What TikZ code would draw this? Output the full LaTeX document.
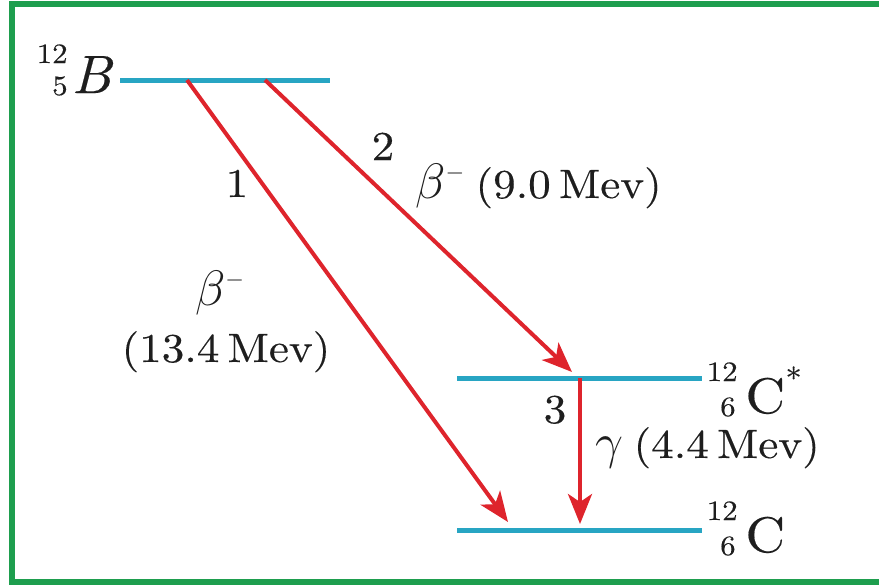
\documentclass[tikz,border=0pt]{standalone}
\usepackage{fontspec}
\setmainfont{lmroman10-regular.otf}[FakeStretch=1.1,FakeBold=0.3,ItalicFont=lmroman10-italic.otf,ItalicFeatures={FakeStretch=1.05,FakeBold=0.3}]
\usetikzlibrary{arrows.meta}
\DeclareMathSizes{23}{23}{13}{10}
\definecolor{framegreen}{RGB}{30,158,78}
\definecolor{levelblue}{RGB}{40,165,195}
\definecolor{arrowred}{RGB}{222,36,44}
\definecolor{txt}{RGB}{30,30,30}
\newcommand{\gp}{\hspace{0.2em}}
\newcommand{\gk}[1]{{\fontsize{23}{26}\selectfont$#1$}}
\tikzset{
  level/.style={draw=levelblue, line width=2.5pt},
  decay/.style={draw=arrowred, line width=2pt, -{Stealth[length=15pt,width=12pt,inset=4pt]}},
  lbl/.style={text=txt, inner sep=0pt, font=\fontsize{20.5}{24}\selectfont},
  sym/.style={text=txt, inner sep=0pt, anchor=base west, font=\fontsize{25}{30}\selectfont},
  idx/.style={text=txt, inner sep=0pt, anchor=base east, font=\fontsize{14}{16}\selectfont},
}
\begin{document}
\begin{tikzpicture}[x=0.5pt,y=-0.5pt]
\useasboundingbox (0,0) rectangle (879,586);
% frame
\draw[framegreen, line width=3pt] (879,3.5) -- (11.5,3.5) -- (11.5,581.5) -- (879,581.5);
% levels
\coordinate (B1) at (120,80);  \coordinate (B2) at (330,80);
\coordinate (S1) at (457,378); \coordinate (S2) at (702,378);
\coordinate (G1) at (457,530); \coordinate (G2) at (702,530);
\draw[level] (B1) -- (B2);
\draw[level] (S1) -- (S2);
\draw[level] (G1) -- (G2);
% nuclide labels
\node[sym, font=\fontsize{27}{30}\selectfont] (Bsym) at (71,93) {\itshape B};
\node[idx] (BA) at (68,63) {12};
\node[idx] (BZ) at (68,95) {5};
\node[sym] (Ssym) at (745,413) {C};
\node[idx] (SA) at (738,381) {12};
\node[idx] (SZ) at (736,416) {6};
\node[text=txt, inner sep=0pt, anchor=north west, font=\fontsize{15}{17}\selectfont] (Sst) at (785,366) {*};
\node[sym] (Gsym) at (745,552) {C};
\node[idx] (GA) at (738,520) {12};
\node[idx] (GZ) at (736,555) {6};
% arrow endpoints
\coordinate (a1s) at (187,80);  \coordinate (a1e) at (508,522);
\coordinate (a2s) at (265,80);  \coordinate (a2e) at (572,372);
\coordinate (a3s) at (580,378); \coordinate (a3e) at (580,524);
\draw[decay] (a1s) -- (a1e);
\draw[decay] (a2s) -- (a2e);
\draw[decay] (a3s) -- (a3e);
% labels
\node[lbl, anchor=base] (n1) at (237,197) {1};
\node[lbl, anchor=base] (n2) at (383,160) {2};
\node[lbl, anchor=base west] (e2) at (415,198) {\gk{\beta^{-}}\hspace{0.25em}(9.0\gp Mev)};
\node[lbl, anchor=base] (b1) at (220,305) {\gk{\beta^{-}}};
\node[lbl, anchor=base] (e1) at (226,362) {(13.4\gp Mev)};
\node[lbl, anchor=base] (n3) at (555,423) {3};
\node[lbl, anchor=base west] (e3) at (595,458) {\gk{\gamma}\hspace{0.25em}(4.4\gp Mev)};
\end{tikzpicture}
\end{document}
